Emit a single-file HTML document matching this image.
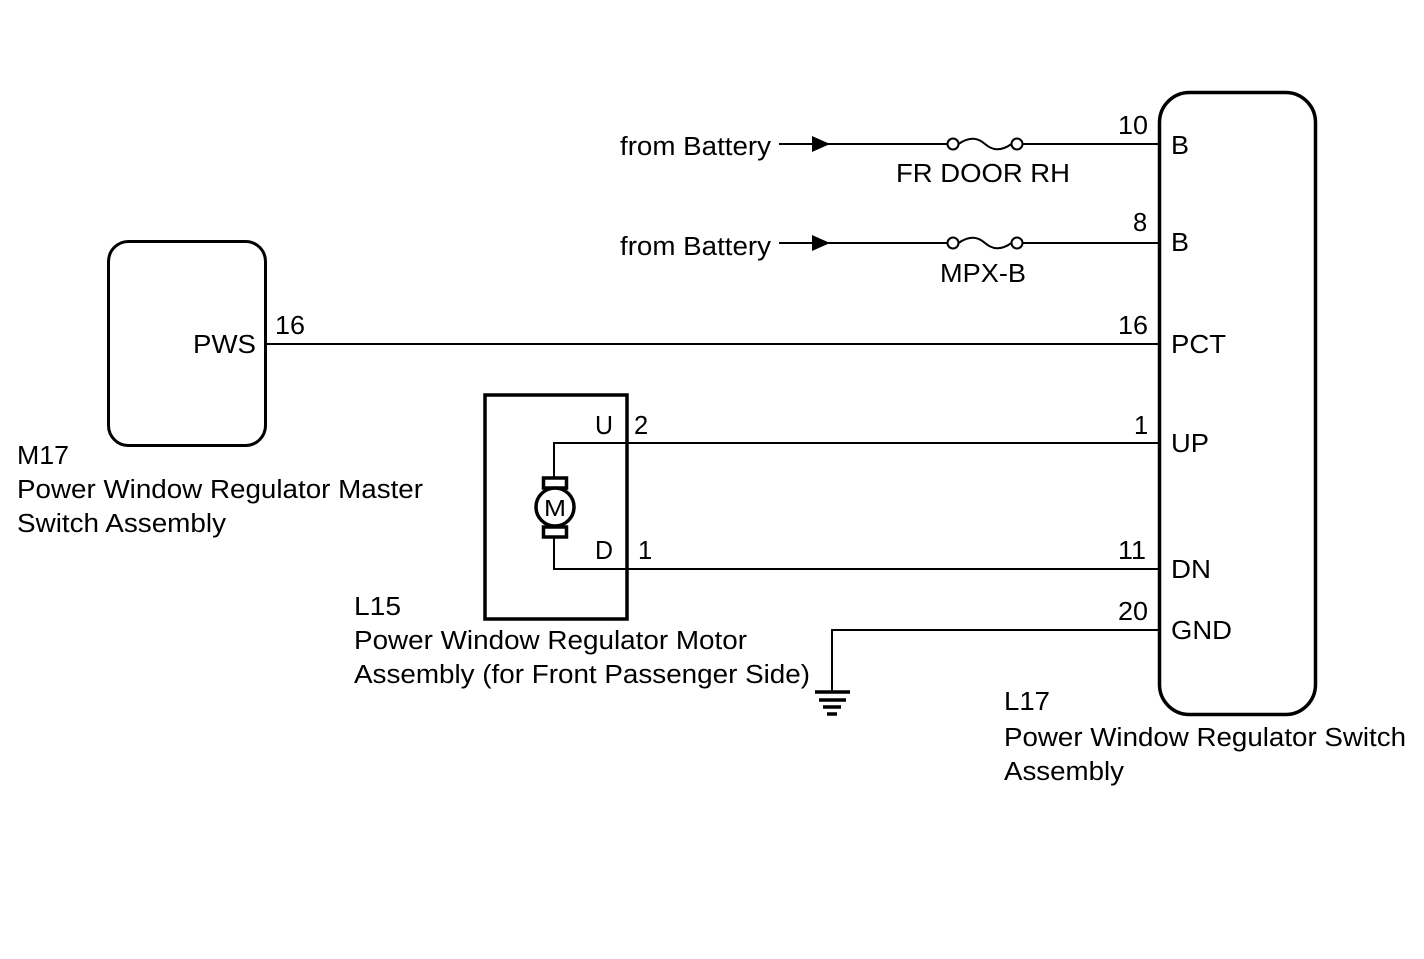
<!DOCTYPE html>
<html><head><style>body{margin:0;background:#fff}svg{display:block}text{font-family:"Liberation Sans",Arial,Helvetica,sans-serif;font-size:25.5px;fill:#000}</style></head>
<body>
<svg width="1424" height="959" viewBox="0 0 1424 959" xmlns="http://www.w3.org/2000/svg">
<g fill="none" stroke="#000">
<rect x="1159.5" y="92.5" width="156" height="622" rx="30" stroke-width="3.5"/>
<rect x="108.5" y="241.5" width="157" height="204" rx="20" stroke-width="3"/>
<rect x="485" y="395" width="142" height="224" stroke-width="3.5"/>
<g stroke-width="2">
<line x1="779" y1="144" x2="948" y2="144"/>
<circle cx="953" cy="144" r="5.5"/>
<path d="M958.5,144 C970,136 978,138 985,144 C992,150 1000,152 1011.5,144"/>
<circle cx="1017" cy="144" r="5.5"/>
<line x1="1022.5" y1="144" x2="1159" y2="144"/>
<line x1="779" y1="243" x2="948" y2="243"/>
<circle cx="953" cy="243" r="5.5"/>
<path d="M958.5,243 C970,235 978,237 985,243 C992,249 1000,251 1011.5,243"/>
<circle cx="1017" cy="243" r="5.5"/>
<line x1="1022.5" y1="243" x2="1159" y2="243"/>
<line x1="265" y1="344" x2="1159" y2="344"/>
<polyline points="1159,443 554,443 554,478"/>
<polyline points="1159,569 554,569 554,537"/>
<polyline points="1159,630 832,630 832,692"/>
</g>
<g stroke-width="3.5">
<line x1="815" y1="692" x2="850" y2="692"/>
<line x1="819" y1="700" x2="846" y2="700"/>
<line x1="823" y1="707" x2="841" y2="707"/>
<line x1="827" y1="714" x2="837" y2="714"/>
<rect x="543.5" y="478" width="23" height="10"/>
<rect x="543.5" y="527" width="23" height="10"/>
<circle cx="555" cy="507" r="19" fill="#fff"/>
</g>
</g>
<polygon points="812,136 830,144 812,152"/>
<polygon points="812,235 830,243 812,251"/>
<text x="620" y="155" textLength="151" lengthAdjust="spacingAndGlyphs">from Battery</text>
<text x="620" y="255" textLength="151" lengthAdjust="spacingAndGlyphs">from Battery</text>
<text x="896" y="182" textLength="174" lengthAdjust="spacingAndGlyphs">FR DOOR RH</text>
<text x="940" y="282" textLength="86" lengthAdjust="spacingAndGlyphs">MPX-B</text>
<text x="1118" y="134" textLength="30" lengthAdjust="spacingAndGlyphs">10</text>
<text x="1133" y="231">8</text>
<text x="1118" y="334" textLength="30" lengthAdjust="spacingAndGlyphs">16</text>
<text x="1134" y="434">1</text>
<text x="1118" y="559" textLength="28" lengthAdjust="spacingAndGlyphs">11</text>
<text x="1118" y="620" textLength="30" lengthAdjust="spacingAndGlyphs">20</text>
<text x="1171" y="154" textLength="18" lengthAdjust="spacingAndGlyphs">B</text>
<text x="1171" y="251" textLength="18" lengthAdjust="spacingAndGlyphs">B</text>
<text x="1171" y="353" textLength="55" lengthAdjust="spacingAndGlyphs">PCT</text>
<text x="1171" y="452" textLength="38" lengthAdjust="spacingAndGlyphs">UP</text>
<text x="1171" y="578" textLength="40" lengthAdjust="spacingAndGlyphs">DN</text>
<text x="1171" y="639" textLength="61" lengthAdjust="spacingAndGlyphs">GND</text>
<text x="193" y="353" textLength="63" lengthAdjust="spacingAndGlyphs">PWS</text>
<text x="275" y="334" textLength="30" lengthAdjust="spacingAndGlyphs">16</text>
<text x="595" y="434" textLength="18" lengthAdjust="spacingAndGlyphs">U</text>
<text x="634" y="434">2</text>
<text x="595" y="559" textLength="18" lengthAdjust="spacingAndGlyphs">D</text>
<text x="638" y="559">1</text>
<text x="544" y="516" style="font-size:23px" textLength="22" lengthAdjust="spacingAndGlyphs">M</text>
<text x="17" y="464" textLength="52" lengthAdjust="spacingAndGlyphs">M17</text>
<text x="17" y="498" textLength="406" lengthAdjust="spacingAndGlyphs">Power Window Regulator Master</text>
<text x="17" y="532" textLength="209" lengthAdjust="spacingAndGlyphs">Switch Assembly</text>
<text x="354" y="615" textLength="47" lengthAdjust="spacingAndGlyphs">L15</text>
<text x="354" y="649" textLength="393" lengthAdjust="spacingAndGlyphs">Power Window Regulator Motor</text>
<text x="354" y="683" textLength="456" lengthAdjust="spacingAndGlyphs">Assembly (for Front Passenger Side)</text>
<text x="1004" y="710" textLength="46" lengthAdjust="spacingAndGlyphs">L17</text>
<text x="1004" y="746" textLength="402" lengthAdjust="spacingAndGlyphs">Power Window Regulator Switch</text>
<text x="1004" y="780" textLength="120" lengthAdjust="spacingAndGlyphs">Assembly</text>
</svg>
</body></html>
